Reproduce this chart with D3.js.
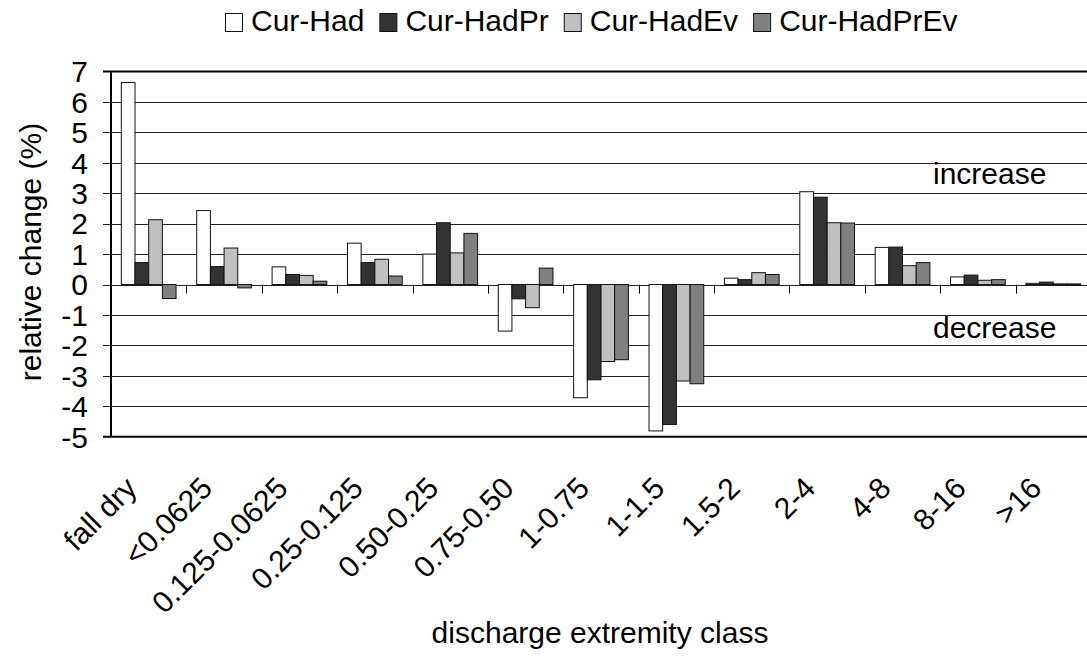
<!DOCTYPE html>
<html>
<head>
<meta charset="utf-8">
<script src="https://cdn.jsdelivr.net/npm/d3@7"></script>
<style>
    body { margin: 0; background: #fff; }
    text { font-family: "Liberation Sans", Arial, sans-serif; fill: #000; }
</style>
</head>
<body>
<script>
// Data
const categories = ["fall dry", "<0.0625", "0.125-0.0625", "0.25-0.125", "0.50-0.25", "0.75-0.50",
    "1-0.75", "1-1.5", "1.5-2", "2-4", "4-8", "8-16", ">16"];
const seriesNames = ["Cur-Had", "Cur-HadPr", "Cur-HadEv", "Cur-HadPrEv"];
const curHad      = [6.64, 2.43, 0.58, 1.36, 1.00, -1.53, -3.72, -4.81, 0.21, 3.05, 1.22, 0.25, 0.04];
const curHadPr    = [0.72, 0.59, 0.33, 0.72, 2.03, -0.47, -3.13, -4.60, 0.16, 2.87, 1.23, 0.31, 0.08];
const curHadEv    = [2.13, 1.20, 0.30, 0.83, 1.04, -0.76, -2.53, -3.17, 0.39, 2.03, 0.62, 0.14, 0.02];
const curHadPrEv  = [-0.46, -0.11, 0.11, 0.28, 1.68, 0.54, -2.47, -3.26, 0.33, 2.02, 0.72, 0.16, 0.02];
const yTicks = [-5, -4, -3, -2, -1, 0, 1, 2, 3, 4, 5, 6, 7];
const colors = ["#ffffff", "#333333", "#c0c0c0", "#808080"];

const seriesValues = [curHad, curHadPr, curHadEv, curHadPrEv];

const width = 1087, height = 656;
const plotLeft = 111, plotTop = 71.5, plotBottom = 436.7, plotRight = 1091;

const svg = d3.select("body").append("svg")
    .attr("width", width)
    .attr("height", height);

const x = d3.scaleBand()
    .domain(categories)
    .range([plotLeft, plotRight])
    .padding(0);

const xInner = d3.scaleBand()
    .domain(seriesNames)
    .range([x.bandwidth() * 0.137, x.bandwidth() * 0.863])
    .padding(0);

const y = d3.scaleLinear()
    .domain([-5, 7])
    .range([plotBottom, plotTop]);

// Gridlines + y ticks
svg.append("g")
    .selectAll("line")
    .data(yTicks.filter(d => d > -5 && d < 7))
    .join("line")
    .attr("x1", plotLeft - 8)
    .attr("x2", width)
    .attr("y1", d => Math.round(y(d)) + 0.5)
    .attr("y2", d => Math.round(y(d)) + 0.5)
    .attr("stroke", "#222")
    .attr("stroke-width", 1);

// top and bottom frame
[7, -5].forEach(v => {
    svg.append("line")
        .attr("x1", plotLeft - 8).attr("x2", width)
        .attr("y1", y(v)).attr("y2", y(v))
        .attr("stroke", "#000").attr("stroke-width", 2);
});

// y tick labels
svg.append("g")
    .selectAll("text")
    .data(yTicks)
    .join("text")
    .attr("x", 88)
    .attr("y", d => y(d))
    .attr("dy", "0.36em")
    .attr("text-anchor", "end")
    .style("font-size", "30px")
    .text(d => d);

// Bars
const groups = svg.append("g")
    .selectAll("g")
    .data(categories)
    .join("g")
    .attr("transform", d => `translate(${x(d)},0)`);

groups.selectAll("rect")
    .data((d, i) => seriesNames.map((s, j) => ({ s, j, v: seriesValues[j][i] })))
    .join("rect")
    .attr("x", d => xInner(d.s))
    .attr("width", xInner.bandwidth())
    .attr("y", d => y(Math.max(0, d.v)))
    .attr("height", d => Math.abs(y(d.v) - y(0)))
    .attr("fill", d => colors[d.j])
    .attr("stroke", "#111")
    .attr("stroke-width", 1);

// left axis
svg.append("line")
    .attr("x1", plotLeft).attr("x2", plotLeft)
    .attr("y1", y(7)).attr("y2", y(-5))
    .attr("stroke", "#000").attr("stroke-width", 2);

// category ticks on the zero line
svg.append("g")
    .selectAll("line")
    .data(categories.slice(1))
    .join("line")
    .attr("x1", d => Math.round(x(d)) + 0.5)
    .attr("x2", d => Math.round(x(d)) + 0.5)
    .attr("y1", y(0))
    .attr("y2", y(0) + 9)
    .attr("stroke", "#000");

// x labels
svg.append("g")
    .selectAll("text")
    .data(categories)
    .join("text")
    .attr("transform", d => `translate(${x(d) + x.bandwidth() / 2 - 10},490) rotate(-45)`)
    .attr("text-anchor", "end")
    .style("font-size", "30px")
    .text(d => d);

// axis titles
svg.append("text")
    .attr("x", 600)
    .attr("y", 643)
    .attr("text-anchor", "middle")
    .style("font-size", "30px")
    .text("discharge extremity class");

svg.append("text")
    .attr("transform", "translate(41,252) rotate(-90)")
    .attr("text-anchor", "middle")
    .style("font-size", "30px")
    .text("relative change (%)");

// annotations
svg.append("text")
    .attr("x", 933).attr("y", y(3.3))
    .style("font-size", "30px")
    .text("increase");
svg.append("text")
    .attr("x", 933).attr("y", y(-1.75))
    .style("font-size", "30px")
    .text("decrease");

// Legend
const legend = svg.append("g");
let lx = 225;
seriesNames.forEach((name, i) => {
    legend.append("rect")
        .attr("x", lx + 0.5).attr("y", 13.5)
        .attr("width", 17).attr("height", 18)
        .attr("fill", colors[i])
        .attr("stroke", "#111");
    const t = legend.append("text")
        .attr("x", lx + 26).attr("y", 31)
        .style("font-size", "30px")
        .text(name);
    lx += 26 + t.node().getComputedTextLength() + 15;
});
</script>
</body>
</html>
